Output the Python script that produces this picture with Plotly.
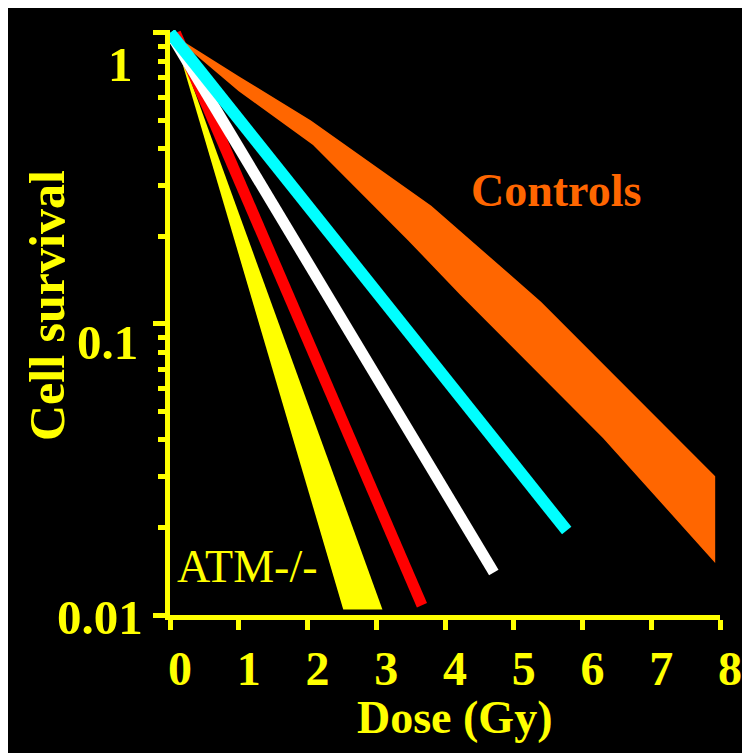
import plotly.graph_objects as go

# ---------------- data ----------------
dose_ticks = [0, 1, 2, 3, 4, 5, 6, 7, 8]
dose_tick_labels = ["0", "1", "2", "3", "4", "5", "6", "7", "8"]
surv_major = [1, 0.1, 0.01]
surv_major_labels = ["1", "0.1", "0.01"]
surv_minor = [0.02, 0.03, 0.04, 0.05, 0.06, 0.07, 0.08, 0.09,
              0.2, 0.3, 0.4, 0.5, 0.6, 0.7, 0.8, 0.9]

# Controls band (upper and lower edges)
ctrl_upper_dose = [0, 1, 2.05, 3.8, 5.4, 7.93]
ctrl_upper_surv = [1.0, 0.71, 0.50, 0.255, 0.119, 0.030]
ctrl_lower_dose = [0, 1, 2.08, 3.46, 4.22, 6.30, 7.93]
ctrl_lower_surv = [1.0, 0.63, 0.412, 0.194, 0.126, 0.0405, 0.0151]

# ATM-/- band
atm_dose = [0.05, 3.09, 2.52]
atm_surv = [1.0, 0.01045, 0.01045]

# intermediate survival lines
red_dose = [0.08, 3.665]
red_surv = [1.0, 0.0108]
white_dose = [0.0, 4.71]
white_surv = [1.0, 0.0140]
cyan_dose = [0.0, 5.77]
cyan_surv = [1.0, 0.0195]

YEL = "#FFFF00"
ORANGE = "#FF6600"
FONT = "Liberation Serif, Times New Roman, serif"

fig = go.Figure()

fig.add_trace(go.Scatter(
    x=ctrl_upper_dose + ctrl_lower_dose[::-1],
    y=ctrl_upper_surv + ctrl_lower_surv[::-1],
    fill="toself", fillcolor=ORANGE, mode="lines",
    line=dict(width=0, color=ORANGE), hoverinfo="skip"))
fig.add_trace(go.Scatter(
    x=atm_dose, y=atm_surv, fill="toself", fillcolor=YEL, mode="lines",
    line=dict(width=0, color=YEL), hoverinfo="skip"))
fig.add_trace(go.Scatter(x=red_dose, y=red_surv, mode="lines",
                         line=dict(color="#FF0000", width=11)))
fig.add_trace(go.Scatter(x=white_dose, y=white_surv, mode="lines",
                         line=dict(color="#FFFFFF", width=11)))
fig.add_trace(go.Scatter(x=cyan_dose, y=cyan_surv, mode="lines",
                         line=dict(color="#00FFFF", width=12)))

OFF = 8  # page body margin
L, R, T, B = 162, 38, 22, 146
W, H = 750, 753
PW, PH = W - L - R, H - T - B


def px(xp):  # page x -> paper
    return (xp - OFF - L) / PW


def py(yp):  # page y -> paper
    return (H - B - (yp - OFF)) / PH


annotations = []
ylab_pos = {"1": (120, 64), "0.1": (107, 342), "0.01": (100, 617)}
for v, lab in zip(surv_major, surv_major_labels):
    cx, cy = ylab_pos[lab]
    annotations.append(dict(text=lab, x=px(cx), y=py(cy), xref="paper", yref="paper",
                            xanchor="center", yanchor="middle", showarrow=False,
                            font=dict(family=FONT, size=49, color=YEL, weight="bold")))

annotations += [
    dict(text="Cell survival", x=px(47), y=py(306), xref="paper", yref="paper",
         textangle=-90, showarrow=False, xanchor="center", yanchor="middle",
         font=dict(family=FONT, size=50, color=YEL, weight="bold")),
    dict(text="Dose (Gy)", x=px(454), y=py(717), xref="paper", yref="paper",
         showarrow=False, xanchor="center", yanchor="middle",
         font=dict(family=FONT, size=46, color=YEL, weight="bold")),
    dict(text="Controls", x=px(556), y=py(190), xref="paper", yref="paper",
         showarrow=False, xanchor="center", yanchor="middle",
         font=dict(family=FONT, size=46, color=ORANGE, weight="bold")),
    dict(text="ATM-/-", x=px(175), y=py(566), xref="paper", yref="paper",
         showarrow=False, xanchor="left", yanchor="middle",
         font=dict(family=FONT, size=46, color=YEL)),
]

fig.update_layout(
    width=W, height=H, margin=dict(l=L, r=R, t=T, b=B),
    paper_bgcolor="black", plot_bgcolor="black", showlegend=False,
    annotations=annotations,
    xaxis=dict(range=[0, 8], tickvals=dose_ticks, ticktext=dose_tick_labels,
               showgrid=False, zeroline=False, showline=True, linecolor=YEL,
               linewidth=5, ticks="outside", ticklen=10, tickwidth=5, tickcolor=YEL,
               ticklabelshift=10, ticklabelstandoff=-3,
               tickfont=dict(family=FONT, size=48, color=YEL, weight="bold")),
    yaxis=dict(type="log", range=[-2, 0.01], tickvals=surv_major,
               showticklabels=False, showgrid=False, zeroline=False,
               showline=True, linecolor=YEL, linewidth=5, ticks="outside",
               ticklen=12, tickwidth=5, tickcolor=YEL,
               minor=dict(tickmode="array", tickvals=surv_minor, ticks="outside",
                          ticklen=7, tickwidth=5, tickcolor=YEL, showgrid=False)),
)

fig.write_html("out.html")
